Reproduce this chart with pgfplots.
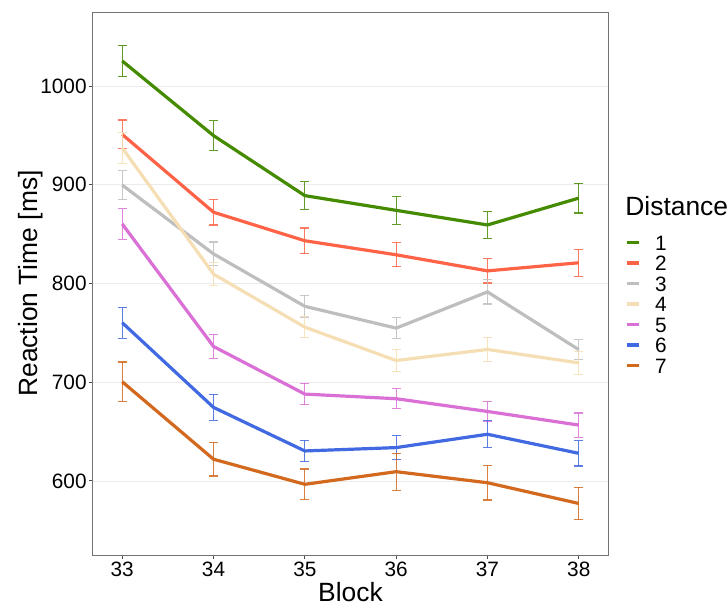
\documentclass[border=0pt]{standalone}
\usepackage{pgfplots}
\pgfplotsset{compat=1.18}
\usepackage{fontspec}
\setmainfont{Liberation Sans}
\definecolor{c1}{HTML}{458B00}
\definecolor{c2}{HTML}{FF6347}
\definecolor{c3}{HTML}{BEBEBE}
\definecolor{c4}{HTML}{F5DEB3}
\definecolor{c5}{HTML}{DA70D6}
\definecolor{c6}{HTML}{4169E1}
\definecolor{c7}{HTML}{D2691E}
\begin{document}
\begin{tikzpicture}
\useasboundingbox (-46.5pt,-25pt) rectangle (317pt,277.5pt);
\begin{axis}[
  name=ax,
  scale only axis, width=257.5pt, height=271.5pt,
  xmin=32.68, xmax=38.32, ymin=525, ymax=1075,
  xtick={33,34,35,36,37,38}, ytick={600,700,800,900,1000},
  ymajorgrids, grid style={color=black!8, line width=0.4pt},
  axis line style={draw=black!55, line width=0.5pt},
  tick align=outside, tick pos=left, major tick length=2pt,
  tick style={black!70, line width=0.5pt},
  ticklabel style={font=\fontsize{10.4}{11}\selectfont, inner sep=0pt},
  xticklabel style={yshift=-1.2pt},
  yticklabel style={xshift=-1pt},
  /pgf/number format/assume math mode=true,
  /pgf/number format/1000 sep={},
  xlabel={Block}, ylabel={Reaction Time [ms]},
  label style={font=\fontsize{13.2}{14}\selectfont, inner sep=0pt},
  xlabel style={at={(axis description cs:0.5,-0.0858)}, anchor=base},
  ylabel style={at={(axis description cs:-0.1087,0.5)}, anchor=base},
  every axis plot/.append style={line width=1.6pt},
  error bars/error bar style={line width=0.6pt, opacity=0.85},
  error bars/error mark options={rotate=90, mark size=2.2pt, line width=0.6pt, opacity=0.85},
  legend image code/.code={\draw[#1, line width=1.6pt] (0pt,0pt) -- (6pt,0pt);},
  legend style={at={(1.033,0.5893)}, anchor=north west, draw=none, fill=none,
    font=\fontsize{10.4}{11}\selectfont, inner sep=0pt, outer sep=0pt, row sep=2.75pt, column sep=7.5pt,
    nodes={inner sep=0pt, text height=7.5pt, text depth=0pt}},
  legend cell align=left,
]
\addplot[c1, error bars/.cd, y dir=both, y explicit] coordinates {
 (33,1025.4) +- (0,16) (34,949.8) +- (0,15) (35,889) +- (0,14) (36,874.1) +- (0,14) (37,859.3) +- (0,13.5) (38,886.5) +- (0,15)};
\addplot[c2, error bars/.cd, y dir=both, y explicit] coordinates {
 (33,951) +- (0,14.6) (34,872.2) +- (0,13) (35,843.3) +- (0,13) (36,829.1) +- (0,12.2) (37,812.8) +- (0,12.2) (38,821) +- (0,13.5)};
\addplot[c3, error bars/.cd, y dir=both, y explicit] coordinates {
 (33,899.7) +- (0,14.4) (34,830) +- (0,12) (35,776.9) +- (0,11) (36,754.8) +- (0,10.5) (37,791.5) +- (0,12.3) (38,733) +- (0,10)};
\addplot[c4, error bars/.cd, y dir=both, y explicit] coordinates {
 (33,937.3) +- (0,16) (34,809.5) +- (0,11.5) (35,755.8) +- (0,10.7) (36,722) +- (0,11) (37,733.2) +- (0,11.8) (38,719.6) +- (0,11.5)};
\addplot[c5, error bars/.cd, y dir=both, y explicit] coordinates {
 (33,860.3) +- (0,15.4) (34,736.2) +- (0,11.9) (35,688) +- (0,10.9) (36,683.3) +- (0,10.3) (37,670.4) +- (0,10.2) (38,656.6) +- (0,12.3)};
\addplot[c6, error bars/.cd, y dir=both, y explicit] coordinates {
 (33,760.3) +- (0,15.6) (34,674.5) +- (0,13.2) (35,630.4) +- (0,10.9) (36,633.8) +- (0,12.3) (37,647.3) +- (0,13.8) (38,628) +- (0,12.9)};
\addplot[c7, error bars/.cd, y dir=both, y explicit] coordinates {
 (33,700.5) +- (0,20) (34,622) +- (0,17) (35,596.6) +- (0,15.5) (36,609.4) +- (0,18.8) (37,598.2) +- (0,17.5) (38,577.2) +- (0,16.3)};
\legend{1,2,3,4,5,6,7}
\end{axis}
\node[anchor=base west, inner sep=0pt, font=\fontsize{13.2}{14}\selectfont] at (266pt,169.7pt) {Distance};
\end{tikzpicture}
\end{document}
